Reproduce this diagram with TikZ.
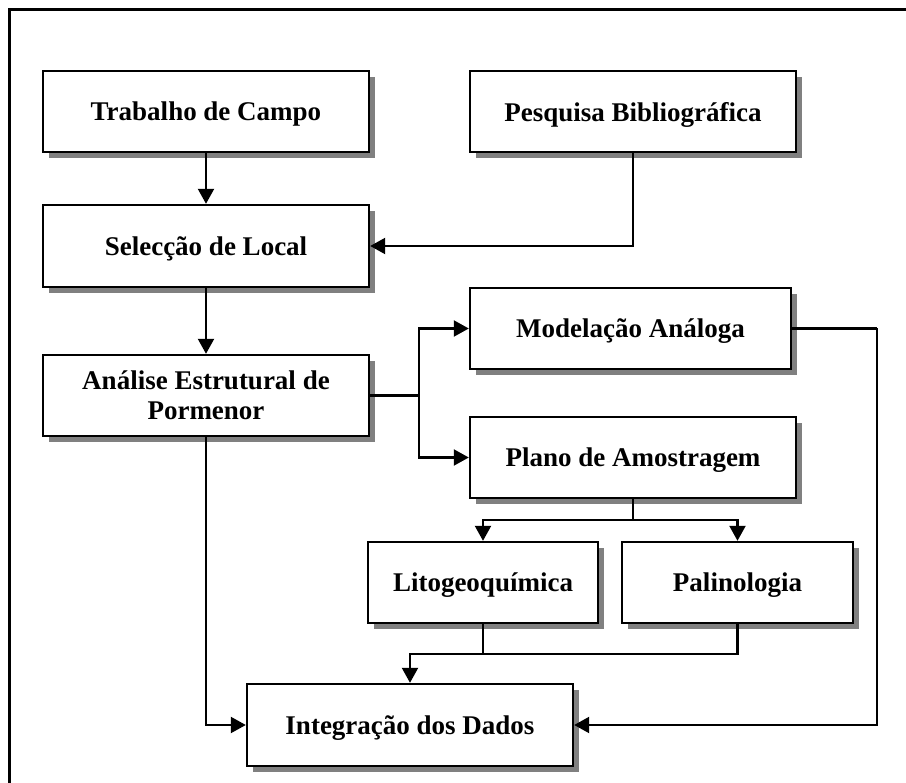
\documentclass[tikz,border=0pt]{standalone}
\usepackage{fontspec}
\setmainfont{Liberation Serif}
\usetikzlibrary{arrows.meta,shadows}
\tikzset{
  flowbox/.style={draw=black, line width=2.4pt, fill=white, rectangle, inner sep=0pt,
    align=center, text depth=0pt, font=\fontsize{27}{30}\selectfont\bfseries,
    drop shadow={shadow xshift=6pt, shadow yshift=-6pt, fill=black!50, opacity=1}},
  conn/.style={line width=2.2pt, draw=black},
  arr/.style={conn, -{Triangle[length=15pt,width=16pt]}},
}
\begin{document}
\begin{tikzpicture}[x=1pt,y=-1pt]
\useasboundingbox (0,0) rectangle (906,783);
\draw[line width=2.4pt] (9.5,783) -- (9.5,9.5) -- (906,9.5);

\node[flowbox, minimum width=326pt, minimum height=81pt] (trab) at (206,111.5) {Trabalho de Campo};
\node[flowbox, minimum width=326pt, minimum height=81pt] (pesq) at (633,111.5) {Pesquisa Bibliográfica};
\node[flowbox, minimum width=326pt, minimum height=82pt] (sel) at (206,246) {Selecção de Local};
\node[flowbox, minimum width=326pt, minimum height=81pt] (anal) at (206,395.5) {Análise Estrutural de\\Pormenor};
\node[flowbox, minimum width=321pt, minimum height=81pt] (mod) at (630.5,328.5) {Modelação Análoga};
\node[flowbox, minimum width=326pt, minimum height=81pt] (plano) at (633,457.5) {Plano de Amostragem};
\node[flowbox, minimum width=230pt, minimum height=81pt] (lito) at (483,582.5) {Litogeoquímica};
\node[flowbox, minimum width=231pt, minimum height=81pt] (pal) at (737.5,582.5) {Palinologia};
\node[flowbox, minimum width=326pt, minimum height=82pt] (integ) at (410,725) {Integração dos Dados};

\coordinate (jA) at (419,395.5);
\coordinate (jP) at (633,520);
\coordinate (jL) at (483,654);
\coordinate (jM) at (877,328.5);

\draw[arr] (trab) -- (sel);
\draw[arr] (pesq.south) |- (sel.east);
\draw[arr] (sel) -- (anal);
\draw[conn] (anal.east) -- (jA);
\draw[arr] (jA) |- (mod.west);
\draw[arr] (jA) |- (plano.west);
\draw[conn] (plano.south) -- (jP);
\draw[arr] (jP) -| (lito.north);
\draw[arr] (jP) -| (pal.north);
\draw[conn] (lito.south) -- (jL);
\draw[conn] (pal.south) |- (jL);
\draw[arr] (jL) -| (integ.north);
\draw[arr] (anal.south) |- (integ.west);
\draw[conn] (mod.east) -- (jM);
\draw[arr] (jM) |- (integ.east);
\end{tikzpicture}
\end{document}
